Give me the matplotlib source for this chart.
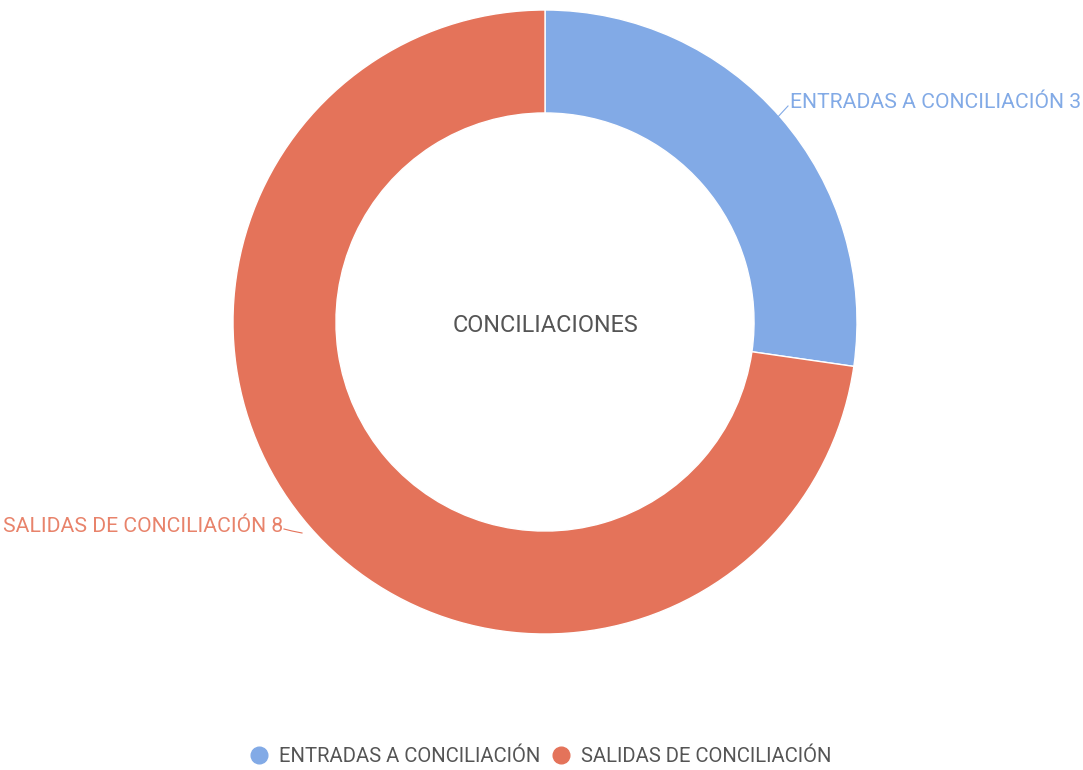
import matplotlib.pyplot as plt
from matplotlib.lines import Line2D

# datos
categorias = ['ENTRADAS A CONCILIACIÓN', 'SALIDAS DE CONCILIACIÓN']
valores = [3, 8]
colores = ['#82aae6', '#e4735a']
titulo_centro = 'CONCILIACIONES'

plt.rcParams['font.family'] = ['Roboto', 'DejaVu Sans']

W, H = 1083, 770
fig = plt.figure(figsize=(W / 100, H / 100), dpi=100)
ax = fig.add_axes([0, 0, 1, 1])

# centro y radio en pixeles
cx, cy, r = 545, H - 322, 312

wedges, _ = ax.pie(valores, colors=colores, startangle=90, counterclock=False,
                   center=(cx, cy), radius=r,
                   wedgeprops=dict(width=r * 0.33, edgecolor='white', linewidth=1))
ax.set_xlim(0, W)
ax.set_ylim(0, H)
ax.set_aspect('equal')
ax.axis('off')

ax.text(cx, cy - 3, titulo_centro, ha='center', va='center', fontsize=16.8, color='#555555')

# etiquetas con linea guia
ax.plot([776, 788], [H - 119, H - 106], color='#82aae6', lw=0.8)
ax.text(790, H - 103, f'{categorias[0]} {valores[0]}', ha='left', va='center',
        fontsize=15.2, color='#82aae6')
ax.plot([284, 292, 302], [H - 529, H - 531, H - 533], color='#e4735a', lw=0.8)
ax.text(283, H - 527, f'{categorias[1]} {valores[1]}', ha='right', va='center',
        fontsize=15.2, color='#e8836b')

# leyenda
handles = [Line2D([], [], marker='o', ls='', markersize=12, color=c) for c in colores]
leg = ax.legend(handles, categorias, loc='center', bbox_to_anchor=(0.5, 1 - 757 / H),
                ncol=2, frameon=False, fontsize=14.6, handlelength=0.8,
                columnspacing=0.6, handletextpad=0.6, labelcolor='#555555')
fig.savefig('out.png', dpi=100)
